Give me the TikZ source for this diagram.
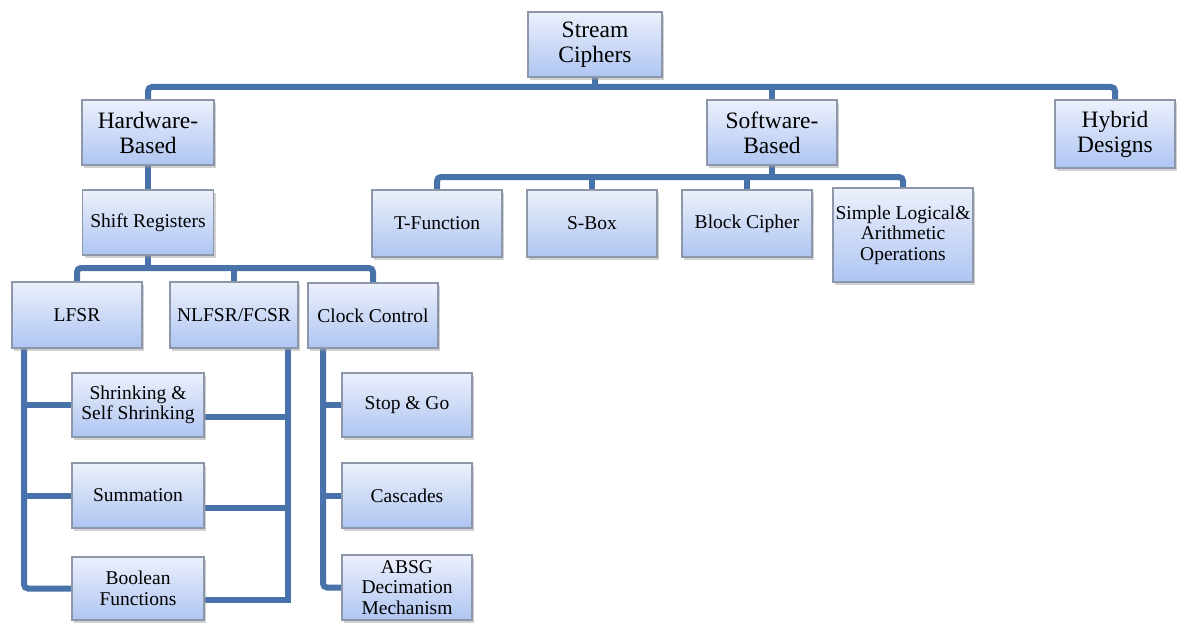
\documentclass[tikz,border=0pt]{standalone}
\usepackage{fontspec}
\setmainfont{Liberation Serif}
\newfontfamily\tnr{Liberation Serif}
\usetikzlibrary{shadows,backgrounds}
\definecolor{linec}{HTML}{4872AA}
\definecolor{boxtop}{HTML}{ECF0FB}
\definecolor{boxbot}{HTML}{AEC5F2}
\definecolor{boxline}{HTML}{8C97AA}
\tikzset{
  box/.style={draw=boxline, line width=1.2pt, top color=boxtop, bottom color=boxbot,
    align=center, inner sep=1pt, text=black,
    drop shadow={shadow xshift=2pt, shadow yshift=-3pt, opacity=0.45, fill=gray!80}},
  big/.style={box, font=\tnr\fontsize{23.5}{25}\selectfont},
  small/.style={box, font=\tnr\fontsize{19.5}{20.5}\selectfont},
  conn/.style={draw=linec, line width=6pt, rounded corners=4pt},
}
\begin{document}
\begin{tikzpicture}[x=1pt,y=1pt]
\useasboundingbox (0,0) rectangle (1182,-623);
% level 0/1
\node[big, minimum width=134, minimum height=65] (sc) at (595,-44.5) {Stream\\Ciphers};
\node[big, minimum width=132, minimum height=65] (hw) at (148,-132.5) {Hardware-\\Based};
\node[big, minimum width=130, minimum height=65] (sw) at (772,-132.5) {Software-\\Based};
\node[big, minimum width=120, minimum height=68] (hy) at (1115,-134) {Hybrid\\Designs};
% software children
\node[small, minimum width=130, minimum height=67] (tf) at (437,-223.5) {T-Function};
\node[small, minimum width=130, minimum height=67] (sb) at (592,-223.5) {S-Box};
\node[small, minimum width=130, minimum height=67] (bc) at (747,-223.5) {Block Cipher};
\node[small, minimum width=140, minimum height=94] (sl) at (903,-235) {Simple Logical\&\\Arithmetic\\Operations};
% hardware children
\node[small, minimum width=131, minimum height=65] (sr) at (148,-222.5) {Shift Registers};
\node[small, minimum width=130, minimum height=66] (lf) at (77,-315) {LFSR};
\node[small, minimum width=128, minimum height=66] (nl) at (234,-315) {NLFSR/FCSR};
\node[small, minimum width=130, minimum height=65] (cc) at (373,-315.5) {Clock Control};
\node[small, minimum width=132, minimum height=64] (sh) at (138,-405) {Shrinking \&\\Self Shrinking};
\node[small, minimum width=132, minimum height=65] (su) at (138,-495.5) {Summation};
\node[small, minimum width=132, minimum height=63] (bo) at (138,-588.5) {Boolean\\Functions};
\node[small, minimum width=130, minimum height=64] (sg) at (407,-405) {Stop \& Go};
\node[small, minimum width=130, minimum height=65] (ca) at (407,-495.5) {Cascades};
\node[small, minimum width=130, minimum height=65] (ab) at (407,-587.5) {ABSG\\Decimation\\Mechanism};
% helper coordinates
\coordinate (b1) at (0,-87);
\coordinate (b2) at (0,-177);
\coordinate (b3) at (0,-268);
\coordinate (lfx) at (24,-348);
\coordinate (nlx) at (288,-348);
\coordinate (ccx) at (323,-348);
\coordinate (nlend) at (288,-603);
\begin{scope}[on background layer]
  % top bus
  \draw[conn] (hw.north) -- (hw.north |- b1) -- (hy.north |- b1) -- (hy.north);
  \draw[conn] (sc.south) -- (sc.south |- b1);
  \draw[conn] (sw.north) -- (sw.north |- b1);
  % software bus
  \draw[conn] (tf.north) -- (tf.north |- b2) -- (sl.north |- b2) -- (sl.north);
  \draw[conn] (sw.south) -- (sw.south |- b2);
  \draw[conn] (sb.north) -- (sb.north |- b2);
  \draw[conn] (bc.north) -- (bc.north |- b2);
  % hardware
  \draw[conn] (hw.south) -- (sr.north);
  \draw[conn] (lf.north) -- (lf.north |- b3) -- (cc.north |- b3) -- (cc.north);
  \draw[conn] (sr.south) -- (sr.south |- b3);
  \draw[conn] (nl.north) -- (nl.north |- b3);
  % LFSR branch
  \draw[conn] (lfx) -- (lfx |- bo.west) -- (bo.west);
  \draw[conn] (lfx |- sh.west) -- (sh.west);
  \draw[conn] (lfx |- su.west) -- (su.west);
  % NLFSR branch
  \draw[conn] (nlx) -- (nlend);
  \draw[conn] ([yshift=-12pt]sh.east) -- ([yshift=-12pt]sh.east -| nlx);
  \draw[conn] ([yshift=-12pt]su.east) -- ([yshift=-12pt]su.east -| nlx);
  \draw[conn] ([yshift=-11pt]bo.east) -- ([yshift=-11pt]bo.east -| nlx);
  % Clock control branch
  \draw[conn] (ccx) -- (ccx |- ab.west) -- (ab.west);
  \draw[conn] (ccx |- sg.west) -- (sg.west);
  \draw[conn] (ccx |- ca.west) -- (ca.west);
\end{scope}
\end{tikzpicture}
\end{document}
